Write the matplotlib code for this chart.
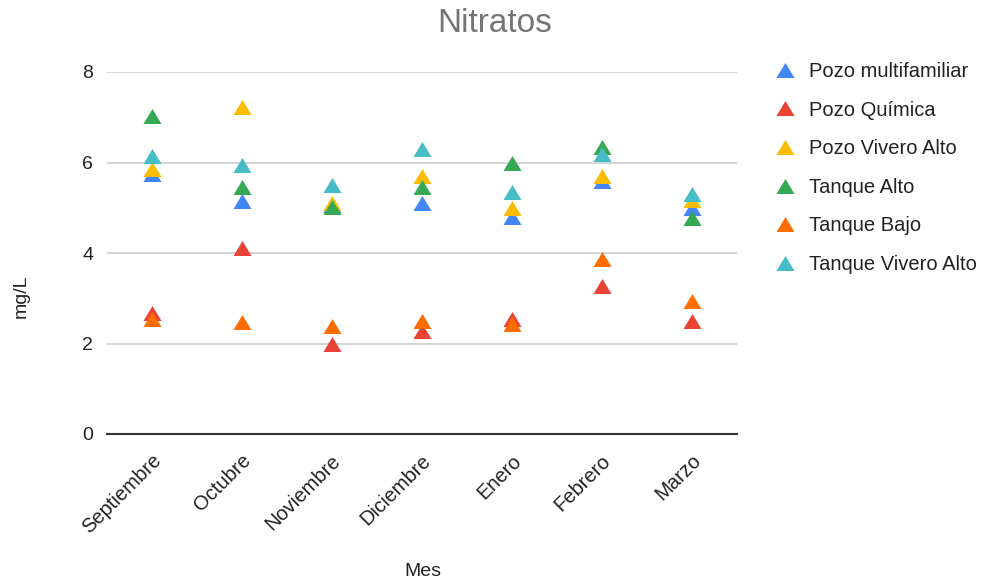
import matplotlib
matplotlib.use("Agg")
import matplotlib.pyplot as plt
from matplotlib.path import Path
from matplotlib.transforms import ScaledTranslation

plt.rcParams['font.family'] = ['Liberation Sans', 'DejaVu Sans']

meses = ["Septiembre", "Octubre", "Noviembre", "Diciembre", "Enero", "Febrero", "Marzo"]

pozo_multifamiliar = [5.75, 5.15, 5.05, 5.10, 4.80, 5.60, 5.00]
pozo_quimica = [2.68, 4.12, 1.99, 2.28, 2.54, 3.28, 2.49]
pozo_vivero_alto = [5.86, 7.23, 5.11, 5.70, 5.00, 5.70, 5.17]
tanque_alto = [7.02, 5.46, 5.02, 5.46, 6.00, 6.35, 4.77]
tanque_bajo = [2.54, 2.48, 2.39, 2.49, 2.43, 3.87, 2.94]
tanque_vivero_alto = [6.15, 5.95, 5.51, 6.30, 5.35, 6.19, 5.30]

series_names = ["Pozo multifamiliar", "Pozo Química", "Pozo Vivero Alto",
                "Tanque Alto", "Tanque Bajo", "Tanque Vivero Alto"]
series_values = [pozo_multifamiliar, pozo_quimica, pozo_vivero_alto,
                 tanque_alto, tanque_bajo, tanque_vivero_alto]
colors = ["#4285F4", "#EA4335", "#FBBC04", "#34A853", "#FF6D01", "#46BDC6"]

y_ticks = [0, 2, 4, 6, 8]

tri = Path([(-1, -0.83), (1, -0.83), (0, 0.83), (-1, -0.83)],
           [Path.MOVETO, Path.LINETO, Path.LINETO, Path.CLOSEPOLY])

fig = plt.figure(figsize=(9.83, 5.82), dpi=100)
ax = fig.add_axes([107/983, 1-434/582, 630/983, (434-72)/582])

x = list(range(len(meses)))
for name, vals, c in zip(series_names, series_values, colors):
    ax.plot(x, vals, linestyle='none', marker=tri, markersize=13,
            color=c, markeredgewidth=0, label=name, zorder=3)

ax.set_xlim(-0.5, len(meses) - 0.5)
ax.set_ylim(0, 8)
ax.set_yticks(y_ticks)
ax.set_yticklabels([str(v) for v in y_ticks])
ax.grid(axis='y', color='#cccccc', linewidth=1.2, zorder=0)
ax.set_axisbelow(True)
for s in ['top', 'right', 'left']:
    ax.spines[s].set_visible(False)
ax.spines['bottom'].set_color('#333333')
ax.spines['bottom'].set_linewidth(1.5)
ax.spines['bottom'].set_zorder(2)

ax.tick_params(axis='y', length=0, pad=10, labelsize=14, labelcolor='#222222')
ax.tick_params(axis='x', length=0, pad=17, labelsize=14.5, labelcolor='#222222')
ax.set_xticks(x)
ax.set_xticklabels(meses, rotation=45, ha='right', va='center', rotation_mode='anchor')
offset = ScaledTranslation(6/100, 0, fig.dpi_scale_trans)
for lbl in ax.get_xticklabels():
    lbl.set_transform(lbl.get_transform() + offset)

ax.set_ylabel("mg/L", fontsize=14, color='#222222')
ax.yaxis.set_label_coords(-77/630, 0.38)
fig.text(423/983, 1-572/582, "Mes", fontsize=14, color='#222222', ha='center', va='center')
fig.text(495/983, 1-24/582, "Nitratos", fontsize=24, color='#757575', ha='center', va='center')

leg = ax.legend(loc='upper left', bbox_to_anchor=(773/983, 1-62/582),
                bbox_transform=fig.transFigure, frameon=False, fontsize=14.5,
                labelspacing=0.97, handlelength=1.2, handletextpad=0.6,
                borderaxespad=0, borderpad=0)
for t in leg.get_texts():
    t.set_color('#222222')

fig.savefig("out.png", dpi=100)
